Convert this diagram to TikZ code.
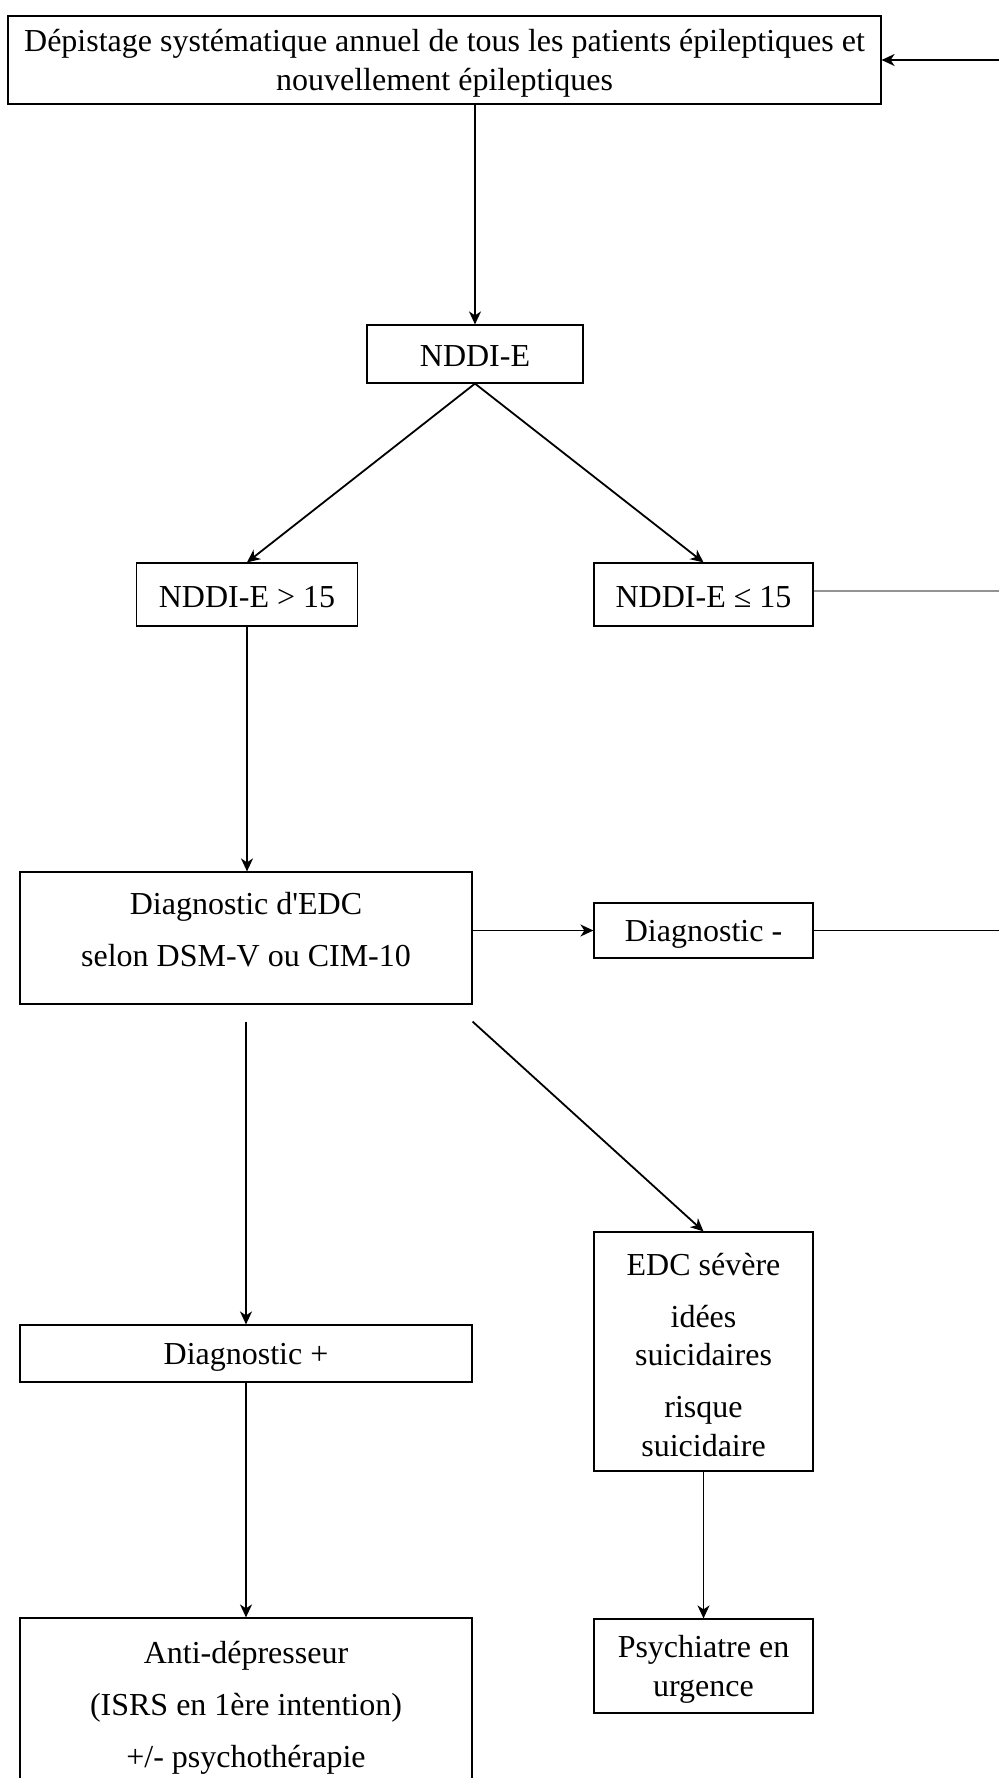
\documentclass[tikz,border=0pt]{standalone}
\usepackage{fontspec}
\setmainfont{Liberation Serif}[Ligatures=TeXOff]
\usetikzlibrary{arrows.meta}
\begin{document}
\begin{tikzpicture}[x=1pt,y=-1pt,
  box/.style={draw, line width=1.2pt, inner sep=0pt},
  txt/.style={inner sep=0pt, align=center, font=\fontsize{32}{38.5}\selectfont},
  arr/.style={line width=1.8pt, -{Stealth[length=13pt,width=12pt,inset=4pt]}},
  ln/.style={line width=1.8pt}]
\useasboundingbox (0,0) rectangle (999,1778);
\node[box, minimum width=873pt, minimum height=88pt] (top) at (444.5,60) {};
\node[txt] (toptx) at ([yshift=-3.5pt]top.center) {Dépistage systématique annuel de tous les patients épileptiques et\\nouvellement épileptiques};
\node[box, minimum width=216pt, minimum height=58pt] (nddi) at (475,354) {};
\node[txt] (nddtx) at ([yshift=-2pt]nddi.center) {NDDI-E};
\node[box, minimum width=221pt, minimum height=63pt] (gt) at (247,594.5) {};
\node[txt] (gttx) at ([yshift=-3pt]gt.center) {NDDI-E > 15};
\node[box, minimum width=219pt, minimum height=63pt] (le) at (703.5,594.5) {};
\node[txt] (letx) at ([yshift=-3pt]le.center) {NDDI-E ≤ 15};
\node[box, minimum width=452pt, minimum height=132pt] (edc) at (246,938) {};
\node[txt] (edctx) at ([yshift=8pt]edc.center) {Diagnostic d'EDC\\[13.5pt]selon DSM-V ou CIM-10};
\node[box, minimum width=219pt, minimum height=55pt] (dneg) at (703.5,930.5) {};
\node[txt] (dnegtx) at ([yshift=-3.5pt]dneg.center) {Diagnostic -};
\node[box, minimum width=452pt, minimum height=57pt] (dpos) at (246,1353.5) {};
\node[txt] (dpostx) at ([yshift=-3.5pt]dpos.center) {Diagnostic +};
\node[box, minimum width=219pt, minimum height=239pt] (sev) at (703.5,1351.5) {};
\node[txt] (sevtx) at ([yshift=-3.5pt]sev.center) {EDC sévère\\[13.5pt]idées\\suicidaires\\[13.5pt]risque\\suicidaire};
\node[box, minimum width=452pt, minimum height=172pt] (anti) at (246,1704) {};
\node[txt] (antitx) at ([yshift=-3.5pt]anti.center) {Anti-dépresseur\\[13.5pt](ISRS en 1ère intention)\\[13.5pt]+/- psychothérapie};
\node[box, minimum width=219pt, minimum height=94pt] (psy) at (703.5,1666) {};
\node[txt] (psytx) at ([yshift=-3.5pt]psy.center) {Psychiatre en\\urgence};
\coordinate (r0) at (999,60);
\coordinate (r1) at (999,591);
\coordinate (r2) at (999,930.5);
\draw[arr] (r0) -- (top.east);
\draw[arr] (top.south -| nddi.north) -- (nddi.north);
\draw[arr] (nddi.south) -- (gt.north);
\draw[arr] (nddi.south) -- (le.north);
\draw[line width=1.8pt, color=gray!85] (le.east |- r1) -- (r1);
\draw[arr] (gt.south) -- (gt.south |- edc.north);
\draw[arr] (edc.east |- dneg.west) -- (dneg.west);
\draw[ln] (dneg.east) -- (r2);
\draw[arr] ([yshift=-17pt]edc.south) -- (dpos.north);
\draw[arr] ([yshift=-17pt]edc.south east) -- (sev.north);
\draw[arr] (dpos.south) -- (anti.north);
\draw[arr] (sev.south) -- (psy.north);
\end{tikzpicture}
\end{document}
